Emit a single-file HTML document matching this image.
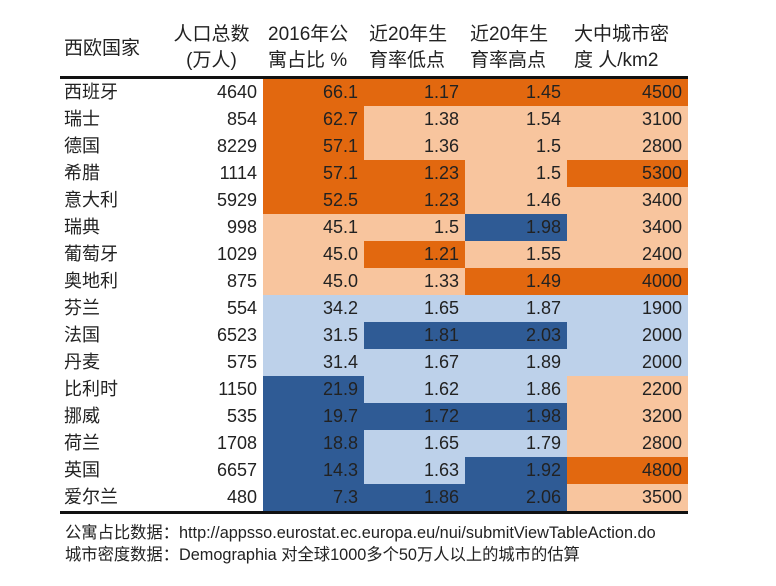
<!DOCTYPE html><html><head><meta charset="utf-8"><style>
body{margin:0;width:776px;height:586px;background:#fff;font-family:"Liberation Sans","Noto Sans CJK SC",sans-serif;color:#222;position:relative;overflow:hidden}
table{position:absolute;left:60px;top:22px;border-collapse:collapse;table-layout:fixed}
td{height:27px;padding:0 6px 0 0;font-size:18px;text-align:right;line-height:27px;white-space:nowrap}
td.c{text-align:left;padding:0 0 0 4px}
th{font-weight:normal;font-size:19px;line-height:26px;text-align:left;padding:0 0 2px 0;vertical-align:bottom;border-bottom:3px solid #111}
.a{background:#E2680F}.b{background:#F8C59E}.l{background:#BDD1EA}.d{background:#2F5B95}
.n{position:absolute;left:65px;font-size:16.3px;white-space:nowrap}
</style></head><body>
<table>
<colgroup><col style="width:100px"><col style="width:103px"><col style="width:101px"><col style="width:101px"><col style="width:102px"><col style="width:121px"></colgroup>
<tr><th style="padding-left:4px;padding-bottom:14px">西欧国家</th><th style="text-align:center">人口总数<br>(万人)</th><th style="padding-left:5px">2016年公<br>寓占比 %</th><th style="padding-left:5px">近20年生<br>育率低点</th><th style="padding-left:5px">近20年生<br>育率高点</th><th style="padding-left:7px">大中城市密<br>度 人/km2</th></tr>
<tr><td class="c">西班牙</td><td>4640</td><td class="a">66.1</td><td class="a">1.17</td><td class="a">1.45</td><td class="a">4500</td></tr>
<tr><td class="c">瑞士</td><td>854</td><td class="a">62.7</td><td class="b">1.38</td><td class="b">1.54</td><td class="b">3100</td></tr>
<tr><td class="c">德国</td><td>8229</td><td class="a">57.1</td><td class="b">1.36</td><td class="b">1.5</td><td class="b">2800</td></tr>
<tr><td class="c">希腊</td><td>1114</td><td class="a">57.1</td><td class="a">1.23</td><td class="b">1.5</td><td class="a">5300</td></tr>
<tr><td class="c">意大利</td><td>5929</td><td class="a">52.5</td><td class="a">1.23</td><td class="b">1.46</td><td class="b">3400</td></tr>
<tr><td class="c">瑞典</td><td>998</td><td class="b">45.1</td><td class="b">1.5</td><td class="d">1.98</td><td class="b">3400</td></tr>
<tr><td class="c">葡萄牙</td><td>1029</td><td class="b">45.0</td><td class="a">1.21</td><td class="b">1.55</td><td class="b">2400</td></tr>
<tr><td class="c">奥地利</td><td>875</td><td class="b">45.0</td><td class="b">1.33</td><td class="a">1.49</td><td class="a">4000</td></tr>
<tr><td class="c">芬兰</td><td>554</td><td class="l">34.2</td><td class="l">1.65</td><td class="l">1.87</td><td class="l">1900</td></tr>
<tr><td class="c">法国</td><td>6523</td><td class="l">31.5</td><td class="d">1.81</td><td class="d">2.03</td><td class="l">2000</td></tr>
<tr><td class="c">丹麦</td><td>575</td><td class="l">31.4</td><td class="l">1.67</td><td class="l">1.89</td><td class="l">2000</td></tr>
<tr><td class="c">比利时</td><td>1150</td><td class="d">21.9</td><td class="l">1.62</td><td class="l">1.86</td><td class="b">2200</td></tr>
<tr><td class="c">挪威</td><td>535</td><td class="d">19.7</td><td class="d">1.72</td><td class="d">1.98</td><td class="b">3200</td></tr>
<tr><td class="c">荷兰</td><td>1708</td><td class="d">18.8</td><td class="l">1.65</td><td class="l">1.79</td><td class="b">2800</td></tr>
<tr><td class="c">英国</td><td>6657</td><td class="d">14.3</td><td class="l">1.63</td><td class="d">1.92</td><td class="a">4800</td></tr>
<tr style="border-bottom:3px solid #111"><td class="c">爱尔兰</td><td>480</td><td class="d">7.3</td><td class="d">1.86</td><td class="d">2.06</td><td class="b">3500</td></tr>
</table>
<div class="n" style="top:519px">公寓占比数据：http://appsso.eurostat.ec.europa.eu/nui/submitViewTableAction.do</div>
<div class="n" style="top:541px">城市密度数据：Demographia 对全球1000多个50万人以上的城市的估算</div>
</body></html>
